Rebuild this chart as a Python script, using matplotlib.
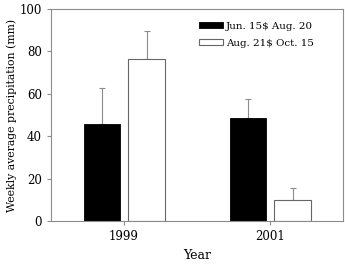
import matplotlib
matplotlib.use("Agg")
import matplotlib.pyplot as plt
import numpy as np

# ── data ────────────────────────────────────────────────────────────────────
years = ["1999", "2001"]
early_label = "Jun. 15\\$ Aug. 20"
late_label = "Aug. 21\\$ Oct. 15"
early_mean = [45.8, 48.4]
early_err = [16.8, 9.1]
late_mean = [76.3, 9.9]
late_err = [13.2, 5.5]

plt.rcParams["font.family"] = ["DejaVu Serif"]

fig = plt.figure(figsize=(3.45, 2.64), dpi=100)
ax = fig.add_axes([51 / 345, 1 - 221 / 264, 292 / 345, 212 / 264])

x = np.arange(len(years))
w = 0.25
grey = "#8c8c8c"

ax.bar(x - 0.15, early_mean, w, color="black", edgecolor="black", linewidth=0.6,
       label=early_label, zorder=2)
ax.bar(x + 0.155, late_mean, w, color="white", edgecolor="#666666", linewidth=0.8,
       label=late_label, zorder=2)

# upward-only error bars
ax.errorbar(x - 0.15, early_mean, yerr=[np.zeros(2), early_err], fmt="none",
            ecolor=grey, elinewidth=0.8, capsize=2.5, capthick=0.8, zorder=1)
ax.errorbar(x + 0.155, late_mean, yerr=[np.zeros(2), late_err], fmt="none",
            ecolor=grey, elinewidth=0.8, capsize=2.5, capthick=0.8, zorder=1)

ax.set_xlim(-0.5, 1.5)
ax.set_ylim(0, 100)
ax.set_xticks(x)
ax.set_xticklabels(years, fontsize=8.5)
ax.set_yticks([0, 20, 40, 60, 80, 100])
ax.tick_params(axis="y", labelsize=8.5, color=grey, length=3)
ax.tick_params(axis="x", color=grey, length=3)
for s in ax.spines.values():
    s.set_color(grey)
    s.set_linewidth(0.8)

ax.set_xlabel("Year", fontsize=9)
ax.set_ylabel("Weekly average precipitation (mm)", fontsize=7.8, labelpad=2)

ax.legend(loc="upper left", frameon=False, fontsize=7.4, handlelength=2.3,
          handleheight=0.55, labelspacing=0.75, handletextpad=0.35,
          borderpad=0, borderaxespad=0,
          bbox_to_anchor=((199 - 51) / 292, (221 - 22) / 212))

fig.savefig("out.png", dpi=100)
